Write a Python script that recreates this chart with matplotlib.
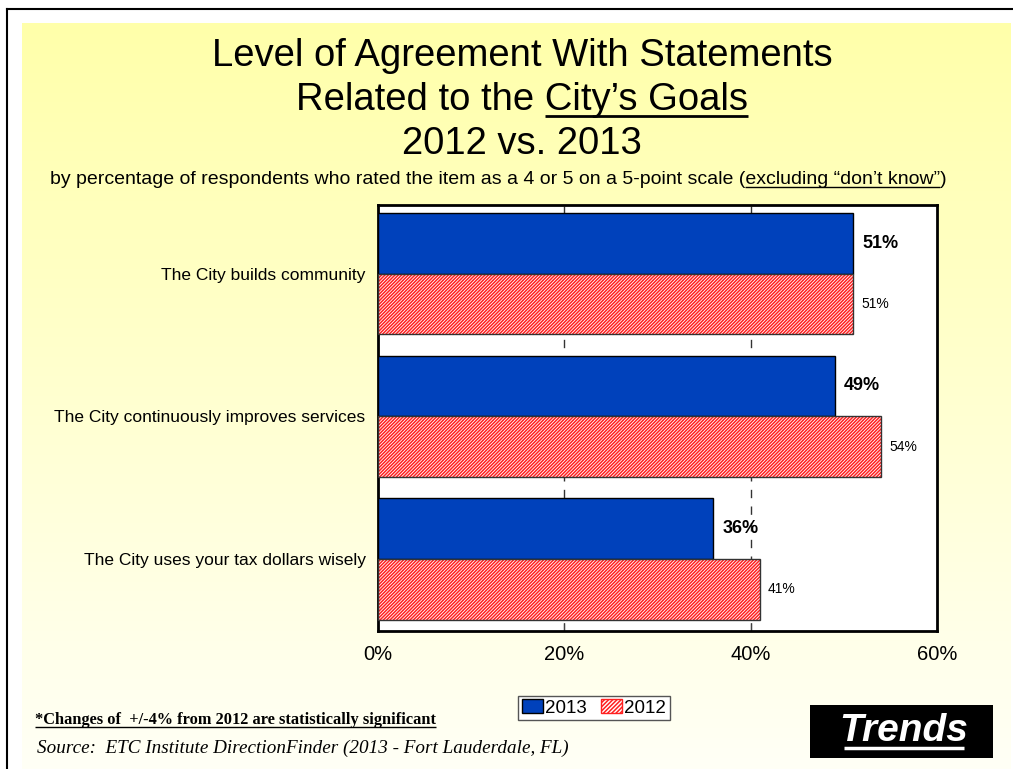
import numpy as np
import matplotlib
matplotlib.use('Agg')
from matplotlib import pyplot as plt
from matplotlib.patches import Patch, Rectangle

# data
categories = ['The City builds community',
              'The City continuously improves services',
              'The City uses your tax dollars wisely']
vals_2013 = [51, 49, 36]
vals_2012 = [51, 54, 41]
xticks = [0, 20, 40, 60]

blue = '#0041BB'
red = '#FF2020'
plt.rcParams['font.family'] = ['Liberation Sans', 'DejaVu Sans']
plt.rcParams['hatch.linewidth'] = 1.1

W, H = 1013, 769
fig = plt.figure(figsize=(W / 100, H / 100), dpi=100)

# background: border lines + yellow gradient
bg = fig.add_axes([0, 0, 1, 1], zorder=-10)
bg.axis('off')
grad = np.linspace(0, 1, 256)[:, None]
top = np.array([255, 255, 170]) / 255
bot = np.array([255, 255, 246]) / 255
img = top[None, None, :] * (1 - grad[:, :, None]) + bot[None, None, :] * grad[:, :, None]
bg.imshow(img, extent=[22, 1011, 769, 23], aspect='auto')
bg.plot([7, 7], [9, 769], color='black', lw=1.5)
bg.plot([7, 1013], [9, 9], color='black', lw=1.5)
bg.set_xlim(0, W)
bg.set_ylim(H, 0)

# chart
ax = fig.add_axes([378 / W, 1 - 631 / H, (937 - 378) / W, (631 - 205) / H])
ax.set_facecolor('white')
y = np.arange(len(categories))
h = 0.425
ax.barh(y - h / 2, vals_2013, height=h, color=blue, edgecolor='black', linewidth=1, zorder=3)
ax.barh(y + h / 2, vals_2012, height=h, color='white', edgecolor=red, hatch='//////////',
        linewidth=0, zorder=3)
ax.barh(y + h / 2, vals_2012, height=h, fill=False, edgecolor='#333333', linewidth=1, zorder=4)

for yi, v in zip(y, vals_2013):
    ax.text(v + 0.95, yi - h / 2, f'{v}%', va='center', ha='left', fontsize=13,
            fontweight='bold', zorder=5)
for yi, v in zip(y, vals_2012):
    ax.text(v + 0.85, yi + h / 2, f'{v}%', va='center', ha='left', fontsize=10, zorder=5)

ax.set_xlim(0, 60)
ax.set_ylim(2.504, -0.48)
ax.set_xticks(xticks)
ax.set_xticklabels([f'{t}%' for t in xticks], fontsize=14.5)
ax.set_yticks(y)
ax.set_yticklabels(categories, fontsize=12.5)
ax.tick_params(axis='y', length=0, pad=9)
ax.tick_params(axis='x', direction='in', length=5, pad=10, color='#444444')
for t in [20, 40]:
    ax.axvline(t, color='#333333', lw=1, dashes=(6, 6), zorder=1)
for s in ax.spines.values():
    s.set_linewidth(2)
    s.set_color('black')

# titles
title_lines = ['Level of Agreement With Statements',
               'Related to the City\u2019s Goals',
               '2012 vs. 2013']
title_y = [56, 100, 144]
texts = []
for line, ty in zip(title_lines, title_y):
    texts.append(fig.text(0.5155, 1 - ty / H, line, ha='center', va='center', fontsize=27.5))
sub = fig.text(0.4915, 1 - 180 / H,
               'by percentage of respondents who rated the item as a 4 or 5 on a 5-point scale '
               '(excluding \u201cdon\u2019t know\u201d)',
               ha='center', va='center', fontsize=14)

# footnotes
note = fig.text(35 / W, 1 - 720 / H, '*Changes of  +/-4% from 2012 are statistically significant',
                ha='left', va='center', fontsize=11.8, fontweight='bold',
                family=['Liberation Serif'])
fig.text(37 / W, 1 - 748 / H, 'Source:  ETC Institute DirectionFinder (2013 - Fort Lauderdale, FL)',
         ha='left', va='center', fontsize=13.8, style='italic', family=['Liberation Serif'])

# trends box
bg.add_patch(Rectangle((810, 705), 183, 53, facecolor='black', zorder=5))
trends = fig.text(904 / W, 1 - 731 / H, 'Trends', ha='center', va='center', color='white',
                  fontsize=28, fontweight='bold', style='italic')

# legend
handles = [Patch(facecolor=blue, edgecolor='black', label='2013'),
           Patch(facecolor='white', edgecolor=red, hatch='////////', label='2012')]
fig.legend(handles=handles, loc='center', bbox_to_anchor=(594 / W, 1 - 708 / H), ncol=2,
           fontsize=13.5, frameon=True, fancybox=False, edgecolor='#555555', framealpha=1,
           handlelength=1.1, handleheight=0.75, handletextpad=0.1, columnspacing=0.8,
           borderpad=0.2, borderaxespad=0)

# underlines
fig.canvas.draw()
r = fig.canvas.get_renderer()
inv = bg.transData.inverted()


def width_of(s, ref):
    t = fig.text(0, 0, s, fontsize=ref.get_fontsize(), family=ref.get_fontfamily(),
                 fontweight=ref.get_fontweight(), style=ref.get_style())
    w = t.get_window_extent(r).width
    t.remove()
    return w


def underline(x0, x1, ypix, lw, color='black'):
    (a, b), (c, d) = inv.transform([(x0, ypix), (x1, ypix)])
    bg.plot([a, c], [b, b], color=color, lw=lw, solid_capstyle='butt', zorder=6)


bb = texts[1].get_window_extent(r)
w = width_of('City\u2019s Goals', texts[1])
underline(bb.x1 - w, bb.x1, bb.y0 + 2, 2)

bb = sub.get_window_extent(r)
wp = width_of(')', sub)
w = width_of('excluding \u201cdon\u2019t know\u201d', sub)
underline(bb.x1 - wp - w, bb.x1 - wp, bb.y0 + 2, 1)

bb = note.get_window_extent(r)
underline(bb.x0, bb.x1, bb.y0 + 1, 1)

bb = trends.get_window_extent(r)
underline(bb.x0 + 4, bb.x1 - 4, bb.y0 + 1, 2.5, 'white')

bg.set_xlim(0, W)
bg.set_ylim(H, 0)
fig.savefig('out.png', dpi=100)
